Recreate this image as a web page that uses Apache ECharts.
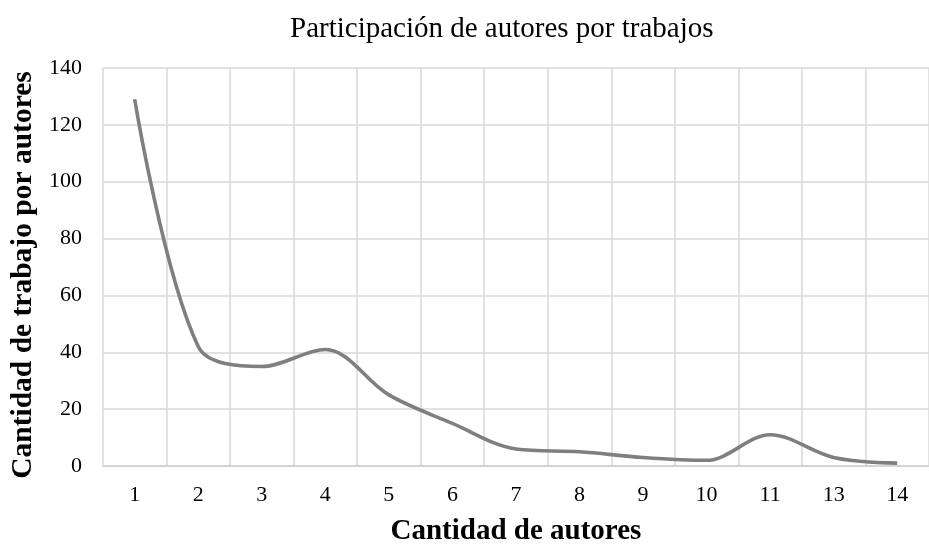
<!DOCTYPE html>
<html>
<head>
<meta charset="utf-8">
<script src="https://cdn.jsdelivr.net/npm/echarts@6/dist/echarts.min.js"></script>
<style>
html,body{margin:0;padding:0;background:#fff;}
#chart{width:929px;height:551px;}
</style>
</head>
<body>
<div id="chart"></div>
<script>
const titleText = 'Participación de autores por trabajos';
const xAxisName = 'Cantidad de autores';
const yAxisName = 'Cantidad de trabajo por autores';
const categories = ['1','2','3','4','5','6','7','8','9','10','11','13','14'];
const values = [129, 42, 35, 41, 25, 15, 6, 5, 3, 2, 11, 3, 1];
const yTicks = {min: 0, max: 140, interval: 20};

const font = 'Liberation Serif, Times New Roman, serif';
const chart = echarts.init(document.getElementById('chart'), null, {renderer: 'canvas'});
chart.setOption({
  animation: false,
  backgroundColor: '#ffffff',
  title: {
    text: titleText,
    left: 285,
    top: 10,
    textStyle: {fontFamily: font, fontSize: 29, fontWeight: 'normal', color: '#000'}
  },
  grid: {left: 94, right: -6, top: 68, bottom: 80, containLabel: false},
  xAxis: {
    type: 'category',
    data: categories,
    boundaryGap: true,
    name: xAxisName,
    nameLocation: 'middle',
    nameGap: 51,
    nameTextStyle: {fontFamily: font, fontSize: 29, fontWeight: 'bold', color: '#000'},
    axisLine: {lineStyle: {color: '#d0d0d0', width: 1.5}},
    axisTick: {show: false},
    axisLabel: {fontFamily: font, fontSize: 22, color: '#000', margin: 18},
    splitLine: {show: true, lineStyle: {color: '#d9d9d9', width: 1.5}}
  },
  yAxis: {
    type: 'value',
    min: yTicks.min,
    max: yTicks.max,
    interval: yTicks.interval,
    name: yAxisName,
    nameLocation: 'middle',
    nameGap: 52,
    nameTextStyle: {fontFamily: font, fontSize: 29.5, fontWeight: 'bold', color: '#000', padding: [0, 16, 0, 0]},
    axisLine: {show: false},
    axisTick: {show: false},
    axisLabel: {fontFamily: font, fontSize: 22, color: '#000', margin: 21},
    splitLine: {show: true, lineStyle: {color: '#d9d9d9', width: 1.5}}
  },
  series: [{
    type: 'line',
    data: values,
    smooth: 0.34,
    symbol: 'none',
    lineStyle: {color: '#7f7f7f', width: 3.6},
    z: 5
  }]
});
</script>
</body>
</html>
